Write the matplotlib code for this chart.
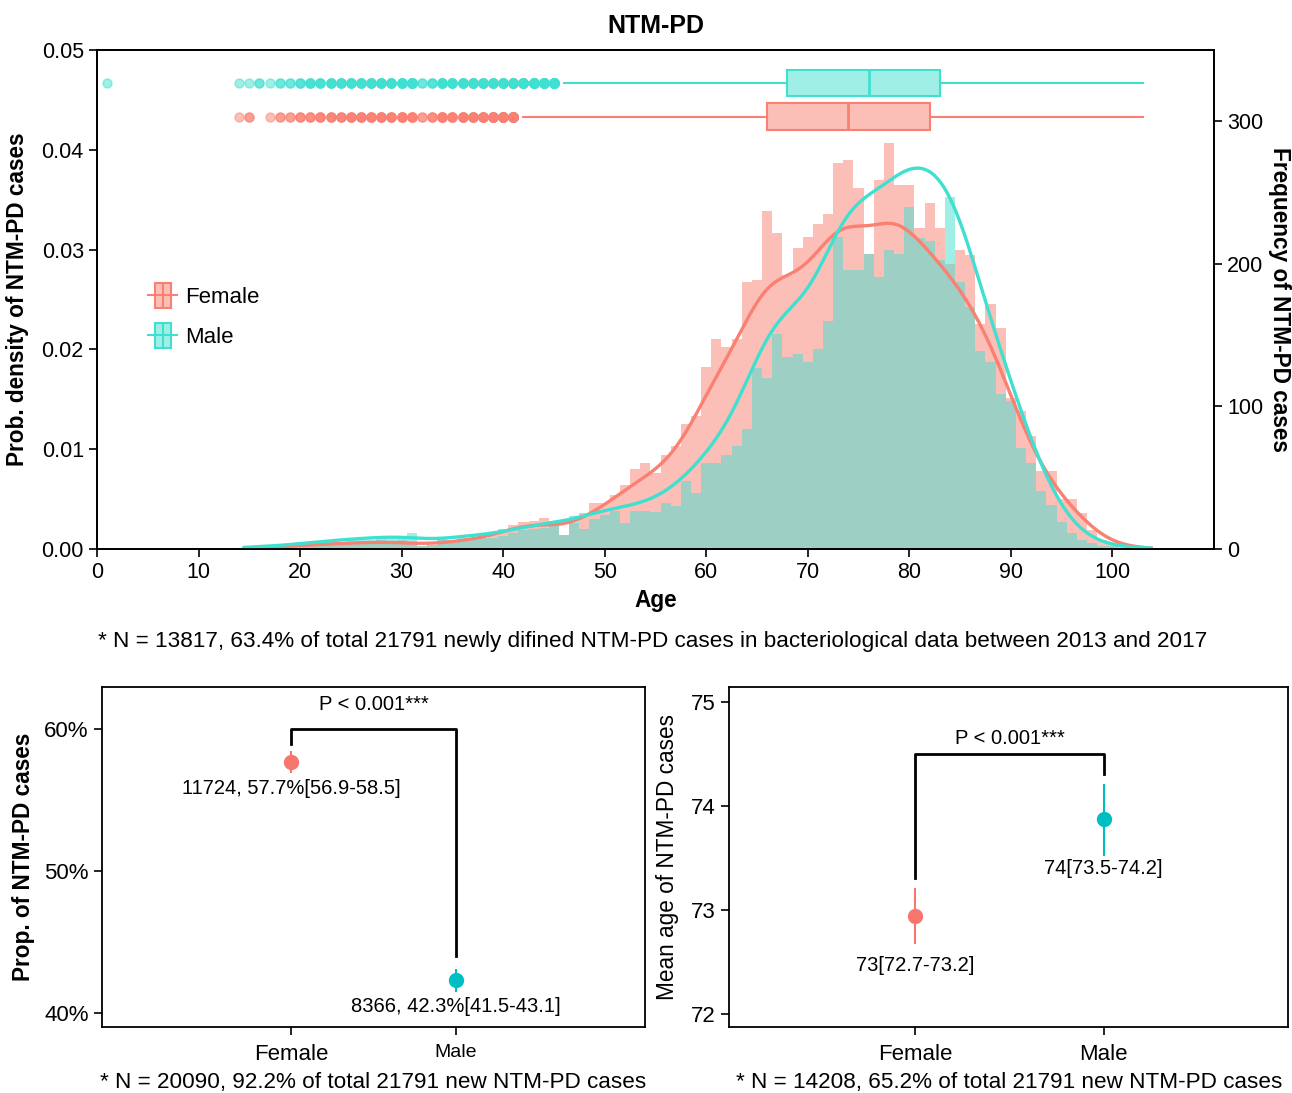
import numpy as np
import matplotlib
matplotlib.use('Agg')
import matplotlib.pyplot as plt
from matplotlib.colors import to_rgba
from matplotlib.patches import Patch, Rectangle
from matplotlib.lines import Line2D
from matplotlib.legend_handler import HandlerBase

plt.rcParams['font.family'] = ['Liberation Sans', 'DejaVu Sans']

# ---- top panel: number of cases per single year of age (ages 14..103) ----
first_age = 14
female_counts = [
    1, 2, 0, 1, 2, 2, 3, 3, 4, 4,
    4, 5, 5, 5, 6, 5, 6, 5, 2, 3,
    6, 5, 7, 7, 8, 10, 14, 17, 19, 20,
    22, 20, 10, 18, 25, 32, 32, 38, 45, 56,
    60, 53, 66, 72, 88, 93, 128, 147, 142, 147,
    187, 189, 237, 222, 192, 211, 219, 228, 235, 271,
    273, 253, 207, 259, 285, 255, 255, 225, 243, 225,
    200, 210, 206, 158, 172, 155, 106, 97, 79, 55,
    55, 35, 35, 25, 13, 6, 4, 2, 1, 1,
]
male_counts = [
    1, 1, 2, 1, 2, 2, 3, 4, 4, 5,
    5, 6, 6, 6, 7, 7, 7, 11, 2, 3,
    7, 6, 8, 8, 8, 8, 9, 11, 13, 14,
    15, 16, 10, 23, 14, 21, 24, 27, 18, 27,
    27, 26, 32, 30, 48, 39, 60, 60, 66, 72,
    84, 127, 120, 151, 135, 137, 131, 140, 160, 219,
    196, 196, 207, 191, 210, 207, 240, 218, 216, 203,
    247, 187, 170, 139, 131, 109, 104, 71, 60, 41,
    31, 19, 11, 6, 4, 2, 2, 1, 1, 1,
]
male_extra_ages = [1]   # single very young male case

# ---- bottom-left: proportion by sex ----
groups = ['Female', 'Male']
prop_n = [11724, 8366]
prop_val = [57.7, 42.3]
prop_lo = [56.9, 41.5]
prop_hi = [58.5, 43.1]

# ---- bottom-right: mean age by sex ----
age_mean = [72.94, 73.87]
age_lo = [72.67, 73.52]
age_hi = [73.21, 74.21]

SALMON = '#FA8072'
TURQ = '#40E0D0'
RED = '#F8766D'
CYAN = '#00BFC4'


def kde(ages, counts, grid):
    w = counts / counts.sum()
    mu = (ages * w).sum()
    sd = np.sqrt((w * (ages - mu) ** 2).sum())
    h = sd * counts.sum() ** (-0.2)
    z = (grid[:, None] - ages[None, :]) / h
    return (np.exp(-0.5 * z ** 2) * w).sum(1) / (h * np.sqrt(2 * np.pi))


class BoxHandler(HandlerBase):
    def create_artists(self, legend, orig_handle, xdescent, ydescent,
                       width, height, fontsize, trans):
        ec = orig_handle.get_edgecolor()
        fc = orig_handle.get_facecolor()
        cy = height / 2 - ydescent
        bw = width * 0.55
        bh = height * 1.6
        x0 = -xdescent + (width - bw) / 2
        line = Line2D([-xdescent, width - xdescent], [cy, cy], color=ec, lw=1.5, transform=trans)
        rect = Rectangle((x0, cy - bh / 2), bw, bh, fc=fc, ec=ec, lw=1.5, transform=trans)
        med = Line2D([x0 + bw / 2] * 2, [cy - bh / 2, cy + bh / 2], color=ec, lw=1.5, transform=trans)
        return [line, rect, med]


fig = plt.figure(figsize=(12.92, 10.93), dpi=100)

# ================= top panel =================
ax = fig.add_axes([0.0751, 0.4977, 0.8645, 0.4565])
ax2 = ax.twinx()
ax.set_zorder(ax2.get_zorder() + 1)
ax.patch.set_visible(False)

f_counts = np.array(female_counts, dtype=float)
m_counts = np.array(male_counts, dtype=float)
ages = np.arange(first_age, first_age + len(female_counts))
m_ages = np.concatenate([male_extra_ages, ages])
m_all = np.concatenate([np.ones(len(male_extra_ages)), m_counts])

ax2.bar(ages, f_counts, width=1.0, color=SALMON, alpha=0.5, linewidth=0)
ax2.bar(m_ages, m_all, width=1.0, color=TURQ, alpha=0.5, linewidth=0)
ax2.set_ylim(0, 350)
ax2.set_yticks([0, 100, 200, 300])
ax2.set_ylabel('Frequency of NTM-PD cases', fontsize=16.3, fontweight='bold',
               rotation=270, labelpad=20)

grid = np.linspace(14.5, 103.8, 500)
ax.plot(grid, kde(ages, f_counts, grid), color=SALMON, lw=2.4)
ax.plot(grid, kde(m_ages, m_all, grid), color=TURQ, lw=2.4)

f_data = np.repeat(ages, f_counts.astype(int))
m_data = np.repeat(m_ages, m_all.astype(int))
for data, pos, col in [(m_data, 0.0467, TURQ), (f_data, 0.0433, SALMON)]:
    ax.boxplot(data, positions=[pos], widths=0.0027, orientation='horizontal',
               manage_ticks=False, patch_artist=True, showcaps=False,
               boxprops=dict(facecolor=to_rgba(col, 0.5), edgecolor=col, linewidth=1.5),
               medianprops=dict(color=col, linewidth=2),
               whiskerprops=dict(color=col, linewidth=1.5),
               flierprops=dict(marker='o', markerfacecolor=col, markeredgecolor=col,
                               alpha=0.5, markersize=6.5))

ax.set_xlim(0, 110)
ax.set_ylim(0, 0.05)
ax.set_xticks(np.arange(0, 101, 10))
ax.set_yticks(np.arange(0, 0.051, 0.01))
ax.yaxis.set_major_formatter(matplotlib.ticker.FormatStrFormatter('%.2f'))
ax.set_xlabel('Age', fontsize=16.3, fontweight='bold', labelpad=4)
ax.set_ylabel('Prob. density of NTM-PD cases', fontsize=16.3, fontweight='bold', labelpad=9)
ax.set_title('NTM-PD', fontsize=18, fontweight='bold', pad=12)
for a in (ax, ax2):
    a.tick_params(direction='out', length=6, width=1.2, labelsize=15.5)
    for s in a.spines.values():
        s.set_linewidth(1.3)

handles = [Patch(facecolor=to_rgba(SALMON, 0.5), edgecolor=SALMON),
           Patch(facecolor=to_rgba(TURQ, 0.5), edgecolor=TURQ)]
ax.legend(handles, ['Female', 'Male'], handler_map={Patch: BoxHandler()},
          loc='upper left', bbox_to_anchor=(0.028, 0.565), frameon=False,
          fontsize=16, handlelength=1.3, handletextpad=0.35, labelspacing=0.85)

fig.text(0.505, 0.4135,
         '* N = 13817, 63.4% of total 21791 newly difined NTM-PD cases in bacteriological data between 2013 and 2017',
         ha='center', va='center', fontsize=16.2)

# ================= bottom-left panel =================
axl = fig.add_axes([0.0789, 0.0604, 0.4203, 0.3111])
cols = [RED, CYAN]
for i in range(2):
    v = prop_val[i]
    axl.errorbar(i, v, yerr=[[v - prop_lo[i]], [prop_hi[i] - v]], fmt='o', color=cols[i],
                 ms=10, elinewidth=1.5, capsize=0)
    axl.text(i, v - 1.85, f'{prop_n[i]}, {v:.1f}%[{prop_lo[i]:.1f}-{prop_hi[i]:.1f}]',
             ha='center', va='center', fontsize=14.5)
axl.plot([0, 0, 1, 1], [59.0, 60.0, 60.0, 44.0], color='black', lw=2)
axl.text(0.5, 61.75, 'P < 0.001***', ha='center', va='center', fontsize=14.5)
axl.set_xlim(-1.145, 2.145)
axl.set_ylim(39, 63)
axl.set_yticks([40, 50, 60])
axl.set_yticklabels(['40%', '50%', '60%'])
axl.set_xticks([0, 1])
axl.set_xticklabels(groups)
axl.tick_params(direction='out', length=6, width=1.2, labelsize=16)
axl.tick_params(axis='x', pad=6)
axl.get_xticklabels()[0].set_fontsize(16)
axl.get_xticklabels()[1].set_fontsize(14)
axl.set_ylabel('Prop. of NTM-PD cases', fontsize=16.3, fontweight='bold', labelpad=7)
for s in axl.spines.values():
    s.set_linewidth(1.3)
fig.text(0.289, 0.0092, '* N = 20090, 92.2% of total 21791 new NTM-PD cases',
         ha='center', va='center', fontsize=16.2)

# ================= bottom-right panel =================
axr = fig.add_axes([0.5642, 0.0604, 0.4327, 0.3111])
for i in range(2):
    v = age_mean[i]
    axr.errorbar(i, v, yerr=[[v - age_lo[i]], [age_hi[i] - v]], fmt='o', color=cols[i],
                 ms=10, elinewidth=1.5, capsize=0)
    axr.text(i, v - 0.47, f'{round(v)}[{age_lo[i]:.1f}-{age_hi[i]:.1f}]',
             ha='center', va='center', fontsize=14.5)
axr.plot([0, 0, 1, 1], [73.31, 74.5, 74.5, 74.31], color='black', lw=2)
axr.text(0.5, 74.65, 'P < 0.001***', ha='center', va='center', fontsize=14.5)
axr.set_xlim(-0.99, 1.98)
axr.set_ylim(71.875, 75.144)
axr.set_yticks([72, 73, 74, 75])
axr.set_xticks([0, 1])
axr.set_xticklabels(groups)
axr.tick_params(direction='out', length=6, width=1.2, labelsize=16)
axr.tick_params(axis='x', pad=6)
axr.set_ylabel('Mean age of NTM-PD cases', fontsize=16.3, labelpad=9)
for s in axr.spines.values():
    s.set_linewidth(1.3)
fig.text(0.781, 0.0092, '* N = 14208, 65.2% of total 21791 new NTM-PD cases',
         ha='center', va='center', fontsize=16.2)

fig.savefig('out.png', dpi=100)
